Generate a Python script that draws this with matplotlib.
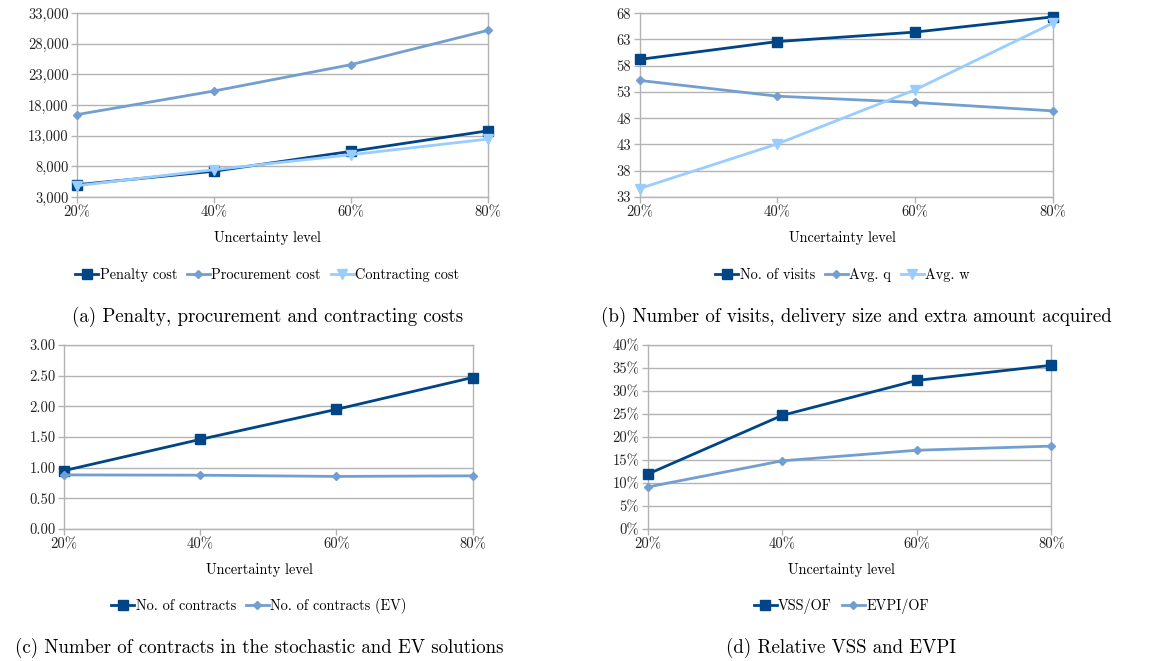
import numpy as np
import matplotlib
matplotlib.use("Agg")
import matplotlib.pyplot as plt
from matplotlib.lines import Line2D

plt.rcParams['font.family'] = ['cmr10', 'DejaVu Serif']
plt.rcParams['axes.formatter.use_mathtext'] = True

# ------------------------------------------------------
# Data
# ------------------------------------------------------
levels = ["20%", "40%", "60%", "80%"]

penalty_cost = [5000, 7200, 10450, 13800]
procurement_cost = [16450, 20300, 24600, 30200]
contracting_cost = [4850, 7450, 9900, 12450]

n_visits = [59.2, 62.6, 64.4, 67.3]
avg_q = [55.2, 52.2, 51.0, 49.4]
avg_w = [34.6, 43.1, 53.4, 66.1]

n_contracts = [0.95, 1.46, 1.95, 2.47]
n_contracts_ev = [0.88, 0.875, 0.855, 0.865]

vss_of = [11.9, 24.7, 32.3, 35.6]
evpi_of = [9.1, 14.8, 17.1, 18.0]

ticks_a = [3000, 8000, 13000, 18000, 23000, 28000, 33000]
ticks_b = [33, 38, 43, 48, 53, 58, 63, 68]
ticks_c = [0.0, 0.5, 1.0, 1.5, 2.0, 2.5, 3.0]
ticks_d = [0, 5, 10, 15, 20, 25, 30, 35, 40]

DARK = "#004586"
MID = "#729fcf"
LIGHT = "#99ccff"
GRID = "#b3b3b3"

STYLE = {
    "sq": dict(color=DARK, marker="s", markersize=7.5),
    "di": dict(color=MID, marker="D", markersize=4.5),
    "tr": dict(color=LIGHT, marker="v", markersize=7.5),
}


def setup_axes(ax, ticks, labels):
    ax.set_xlim(0, len(levels) - 1)
    ax.set_ylim(ticks[0], ticks[-1])
    ax.set_xticks(range(len(levels)))
    ax.set_xticklabels(levels)
    ax.set_yticks(ticks)
    ax.set_yticklabels(labels)
    ax.grid(axis="y", color=GRID, linewidth=1.0)
    ax.set_axisbelow(True)
    for s in ax.spines.values():
        s.set_color(GRID)
        s.set_linewidth(1.0)
    ax.tick_params(axis="both", colors=GRID, length=4, width=1.0,
                   labelcolor="#222222", labelsize=10.5, pad=2)


def draw(fig, rect, cx, capx, series, ticks, labels, caption, legend_y, xlabel_y, cap_y):
    ax = fig.add_axes(rect)
    x = np.arange(len(levels))
    handles = []
    for vals, name, key in series:
        ax.plot(x, vals, linewidth=2.0, clip_on=False, zorder=3, **STYLE[key])
        handles.append(Line2D([], [], linewidth=2.0, **STYLE[key]))
    setup_axes(ax, ticks, labels)
    fig.text(cx, xlabel_y, "Uncertainty level", ha="center", va="center", fontsize=10.3)
    fig.legend(handles, [s[1] for s in series], loc="center", bbox_to_anchor=(cx, legend_y),
               ncol=len(series), frameon=False, fontsize=10.3, handlelength=1.6,
               handletextpad=0.1, columnspacing=0.7)
    fig.text(capx, cap_y, caption, ha="center", va="center", fontsize=13.6)
    return ax


fig = plt.figure(figsize=(11.67, 6.61), dpi=100)

draw(fig, [0.066, 0.702, 0.352, 0.278], 0.229, 0.229,
     [(penalty_cost, "Penalty cost", "sq"),
      (procurement_cost, "Procurement cost", "di"),
      (contracting_cost, "Contracting cost", "tr")],
     ticks_a, [f"{t:,}" for t in ticks_a],
     "(a) Penalty, procurement and contracting costs",
     1 - 275 / 661, 1 - 238 / 661, 1 - 317 / 661)

draw(fig, [0.548, 0.702, 0.354, 0.278], 0.722, 0.734,
     [(n_visits, "No. of visits", "sq"),
      (avg_q, "Avg. q", "di"),
      (avg_w, "Avg. w", "tr")],
     ticks_b, [str(t) for t in ticks_b],
     "(b) Number of visits, delivery size and extra amount acquired",
     1 - 275 / 661, 1 - 238 / 661, 1 - 317 / 661)

draw(fig, [0.055, 0.200, 0.350, 0.278], 0.222, 0.222,
     [(n_contracts, "No. of contracts", "sq"),
      (n_contracts_ev, "No. of contracts (EV)", "di")],
     ticks_c, [f"{t:.2f}" for t in ticks_c],
     "(c) Number of contracts in the stochastic and EV solutions",
     1 - 606 / 661, 1 - 570 / 661, 1 - 648 / 661)

draw(fig, [0.555, 0.200, 0.346, 0.278], 0.721, 0.721,
     [(vss_of, "VSS/OF", "sq"),
      (evpi_of, "EVPI/OF", "di")],
     ticks_d, [f"{t}%" for t in ticks_d],
     "(d) Relative VSS and EVPI",
     1 - 606 / 661, 1 - 570 / 661, 1 - 648 / 661)

fig.savefig("out.png", dpi=100)
